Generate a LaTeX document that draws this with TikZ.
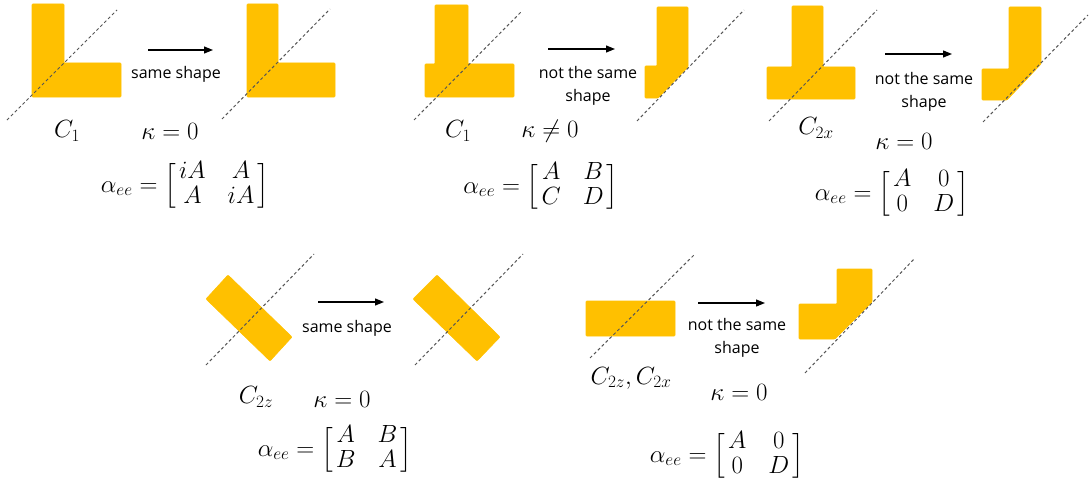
\documentclass[tikz,border=0pt]{standalone}
\usepackage{amsmath}
\usepackage{fontspec}
\newfontfamily\lbl{Open Sans}
\usetikzlibrary{arrows.meta}
\DeclareMathSizes{25}{25}{19}{14}
\definecolor{gold}{HTML}{FFC000}
\definecolor{dgray}{HTML}{555555}
\newcommand{\mymat}[4]{\alpha_{ee} = {\setlength{\arraycolsep}{11pt}\renewcommand{\arraystretch}{0.85}\left[\hspace{-8pt}\begin{array}{cc} #1 & #2\\ #3 & #4\end{array}\hspace{-8pt}\right]}}
\tikzset{
  shp/.style={fill=gold, draw=gold, line width=0.6pt, rounded corners=0.8pt},
  axisline/.style={draw=dgray, line width=1pt, dash pattern=on 3pt off 2.5pt},
  arr/.style={-{Triangle[length=9pt,width=7pt]}, line width=1.2pt},
  txt/.style={font=\lbl\fontsize{16}{23}\selectfont, align=center, inner sep=0pt},
  mth/.style={font=\fontsize{25}{29}\selectfont, inner sep=0pt},
}
\begin{document}
\begin{tikzpicture}[x=1pt,y=-1pt]
\useasboundingbox (0,0) rectangle (1090,487);
% ---------- panel 1
\fill[shp] (32,4)--(64,4)--(64,63)--(121,63)--(121,97)--(32,97)--cycle;
\fill[shp] (247,4)--(278,4)--(278,63)--(335,63)--(335,97)--(247,97)--cycle;
\draw[axisline] (7,120)--(117,10);
\draw[axisline] (222,119)--(330,9);
\coordinate (a1s) at (148,50); \coordinate (a1e) at (213,50);
\draw[arr] (a1s)--(a1e);
\node[txt] (t1) at (176,74) {same shape};
\node[mth] (c1) at (67,131) {$C_1$};
\node[mth] (k1) at (170,131) {$\kappa = 0$};
\node[mth] (m1) at (185,186) {$\mymat{iA}{A}{A}{iA}$};
% ---------- panel 2
\fill[shp] (435,5)--(468,5)--(468,64)--(514,64)--(514,97)--(425,97)--(425,64)--(435,64)--cycle;
\fill[shp] (645,66)--(657,66)--(657,7)--(688,7)--(688,67)--(658,98)--(645,98)--cycle;
\draw[axisline] (414,120)--(522,11);
\draw[axisline] (637,121)--(744,10);
\coordinate (a2s) at (548,49); \coordinate (a2e) at (615,49);
\draw[arr] (a2s)--(a2e);
\node[txt] (t2) at (588,86) {not the same\\shape};
\node[mth] (c2) at (458,131) {$C_1$};
\node[mth] (k2) at (550,131) {$\kappa \neq 0$};
\node[mth] (m2) at (541,187) {$\mymat{A}{B}{C}{D}$};
% ---------- panel 3
\fill[shp] (792,6)--(823,6)--(823,67)--(855,67)--(855,99)--(767,99)--(767,67)--(792,67)--cycle;
\fill[shp] (982,69)--(1009,69)--(1009,7)--(1041,7)--(1041,64)--(1007,100)--(982,100)--cycle;
\draw[axisline] (769,121)--(877,10);
\draw[axisline] (983,122)--(1088,15);
\coordinate (a3s) at (885,54); \coordinate (a3e) at (952,54);
\draw[arr] (a3s)--(a3e);
\node[txt] (t3) at (924,92) {not the same\\shape};
\node[mth] (c3) at (816,128) {$C_{2x}$};
\node[mth] (k3) at (904,141) {$\kappa = 0$};
\node[mth] (m3) at (892,194) {$\mymat{A}{0}{0}{D}$};
% ---------- panel 4
\fill[shp] (228,275)--(292,337)--(270,361)--(206,299)--cycle;
\fill[shp] (437,275)--(500,337)--(477,361)--(413,299)--cycle;
\draw[axisline] (206,365)--(314,254);
\draw[axisline] (415,365)--(523,254);
\coordinate (a4s) at (318,302); \coordinate (a4e) at (384,302);
\draw[arr] (a4s)--(a4e);
\node[txt] (t4) at (347,328) {same shape};
\node[mth] (c4) at (256,397) {$C_{2z}$};
\node[mth] (k4) at (342,399) {$\kappa = 0$};
\node[mth] (m4) at (335,450) {$\mymat{A}{B}{B}{A}$};
% ---------- panel 5
\fill[shp] (586,301) rectangle (675,336);
\fill[shp] (799,304)--(837,304)--(837,269)--(872,269)--(872,302)--(835,339)--(799,339)--cycle;
\draw[axisline] (590,358)--(695,254);
\draw[axisline] (805,373)--(915,258);
\coordinate (a5s) at (698,303); \coordinate (a5e) at (765,303);
\draw[arr] (a5s)--(a5e);
\node[txt] (t5) at (737,338) {not the same\\shape};
\node[mth] (c5) at (631,378) {$C_{2z}, C_{2x}$};
\node[mth] (k5) at (739,392) {$\kappa = 0$};
\node[mth] (m5) at (727,456) {$\mymat{A}{0}{0}{D}$};
\end{tikzpicture}
\end{document}
